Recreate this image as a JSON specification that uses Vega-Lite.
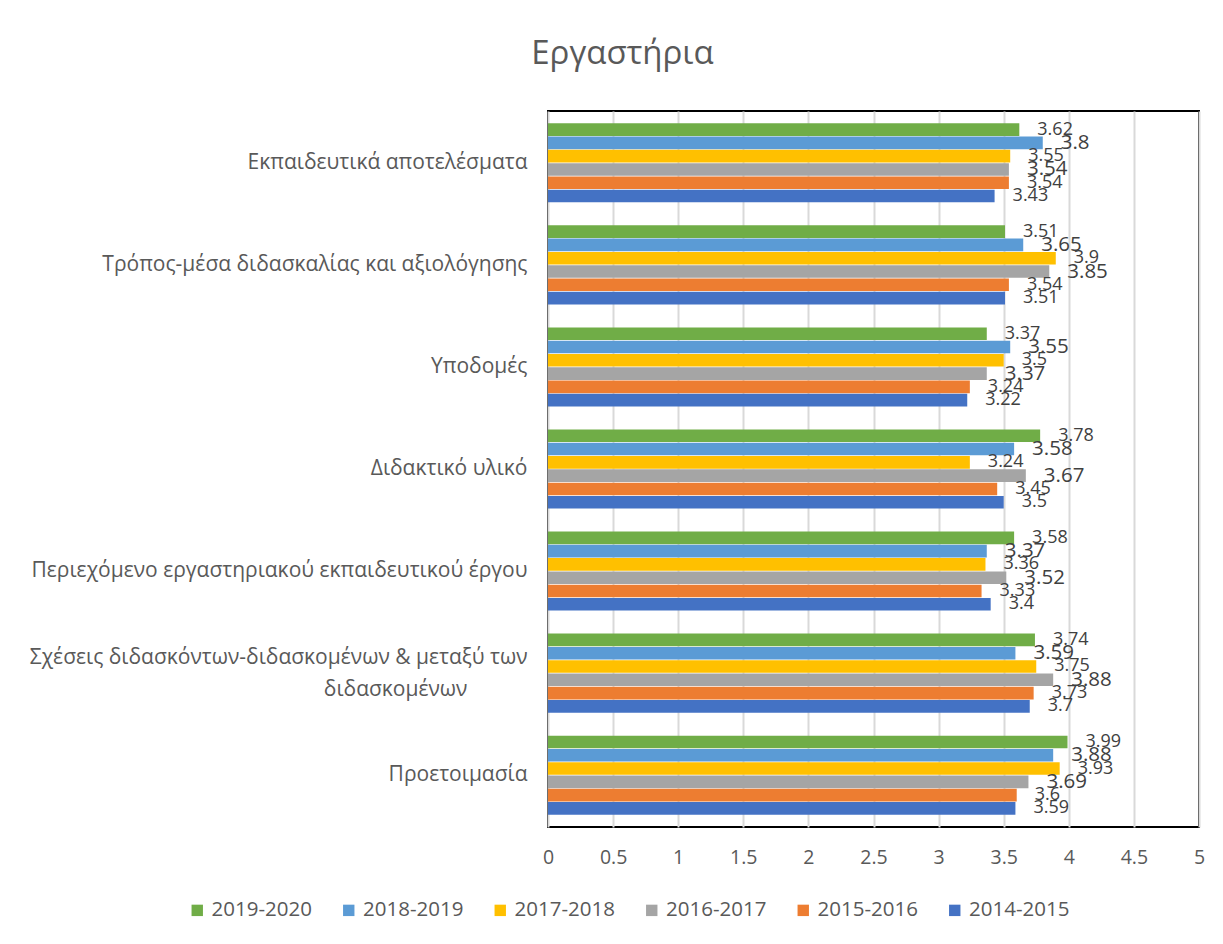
{
  "$schema": "https://vega.github.io/schema/vega-lite/v6.json",
  "width": 651,
  "height": 716,
  "autosize": {"type": "none"},
  "padding": {"left": 548, "top": 111, "right": 24, "bottom": 117},
  "background": "white",
  "title": {"text": "Εργαστήρια", "fontSize": 33, "font": "Open Sans", "fontWeight": "normal", "color": "#595959", "anchor": "middle", "frame": "group", "dx": -251, "offset": 40},
  "config": {
    "view": {"stroke": "black", "strokeWidth": 2},
    "font": "Open Sans"
  },
  "data": {"values": [
    {"category": "Εκπαιδευτικά αποτελέσματα", "year": "2019-2020", "value": 3.62},
    {"category": "Εκπαιδευτικά αποτελέσματα", "year": "2018-2019", "value": 3.8},
    {"category": "Εκπαιδευτικά αποτελέσματα", "year": "2017-2018", "value": 3.55},
    {"category": "Εκπαιδευτικά αποτελέσματα", "year": "2016-2017", "value": 3.54},
    {"category": "Εκπαιδευτικά αποτελέσματα", "year": "2015-2016", "value": 3.54},
    {"category": "Εκπαιδευτικά αποτελέσματα", "year": "2014-2015", "value": 3.43},
    {"category": "Τρόπος-μέσα διδασκαλίας και αξιολόγησης", "year": "2019-2020", "value": 3.51},
    {"category": "Τρόπος-μέσα διδασκαλίας και αξιολόγησης", "year": "2018-2019", "value": 3.65},
    {"category": "Τρόπος-μέσα διδασκαλίας και αξιολόγησης", "year": "2017-2018", "value": 3.9},
    {"category": "Τρόπος-μέσα διδασκαλίας και αξιολόγησης", "year": "2016-2017", "value": 3.85},
    {"category": "Τρόπος-μέσα διδασκαλίας και αξιολόγησης", "year": "2015-2016", "value": 3.54},
    {"category": "Τρόπος-μέσα διδασκαλίας και αξιολόγησης", "year": "2014-2015", "value": 3.51},
    {"category": "Υποδομές", "year": "2019-2020", "value": 3.37},
    {"category": "Υποδομές", "year": "2018-2019", "value": 3.55},
    {"category": "Υποδομές", "year": "2017-2018", "value": 3.5},
    {"category": "Υποδομές", "year": "2016-2017", "value": 3.37},
    {"category": "Υποδομές", "year": "2015-2016", "value": 3.24},
    {"category": "Υποδομές", "year": "2014-2015", "value": 3.22},
    {"category": "Διδακτικό υλικό", "year": "2019-2020", "value": 3.78},
    {"category": "Διδακτικό υλικό", "year": "2018-2019", "value": 3.58},
    {"category": "Διδακτικό υλικό", "year": "2017-2018", "value": 3.24},
    {"category": "Διδακτικό υλικό", "year": "2016-2017", "value": 3.67},
    {"category": "Διδακτικό υλικό", "year": "2015-2016", "value": 3.45},
    {"category": "Διδακτικό υλικό", "year": "2014-2015", "value": 3.5},
    {"category": "Περιεχόμενο εργαστηριακού εκπαιδευτικού έργου", "year": "2019-2020", "value": 3.58},
    {"category": "Περιεχόμενο εργαστηριακού εκπαιδευτικού έργου", "year": "2018-2019", "value": 3.37},
    {"category": "Περιεχόμενο εργαστηριακού εκπαιδευτικού έργου", "year": "2017-2018", "value": 3.36},
    {"category": "Περιεχόμενο εργαστηριακού εκπαιδευτικού έργου", "year": "2016-2017", "value": 3.52},
    {"category": "Περιεχόμενο εργαστηριακού εκπαιδευτικού έργου", "year": "2015-2016", "value": 3.33},
    {"category": "Περιεχόμενο εργαστηριακού εκπαιδευτικού έργου", "year": "2014-2015", "value": 3.4},
    {"category": "Σχέσεις διδασκόντων-διδασκομένων & μεταξύ των διδασκομένων", "year": "2019-2020", "value": 3.74},
    {"category": "Σχέσεις διδασκόντων-διδασκομένων & μεταξύ των διδασκομένων", "year": "2018-2019", "value": 3.59},
    {"category": "Σχέσεις διδασκόντων-διδασκομένων & μεταξύ των διδασκομένων", "year": "2017-2018", "value": 3.75},
    {"category": "Σχέσεις διδασκόντων-διδασκομένων & μεταξύ των διδασκομένων", "year": "2016-2017", "value": 3.88},
    {"category": "Σχέσεις διδασκόντων-διδασκομένων & μεταξύ των διδασκομένων", "year": "2015-2016", "value": 3.73},
    {"category": "Σχέσεις διδασκόντων-διδασκομένων & μεταξύ των διδασκομένων", "year": "2014-2015", "value": 3.7},
    {"category": "Προετοιμασία", "year": "2019-2020", "value": 3.99},
    {"category": "Προετοιμασία", "year": "2018-2019", "value": 3.88},
    {"category": "Προετοιμασία", "year": "2017-2018", "value": 3.93},
    {"category": "Προετοιμασία", "year": "2016-2017", "value": 3.69},
    {"category": "Προετοιμασία", "year": "2015-2016", "value": 3.6},
    {"category": "Προετοιμασία", "year": "2014-2015", "value": 3.59}
  ]},
  "encoding": {
    "y": {
      "field": "category", "type": "nominal", "title": null,
      "sort": ["Εκπαιδευτικά αποτελέσματα", "Τρόπος-μέσα διδασκαλίας και αξιολόγησης", "Υποδομές", "Διδακτικό υλικό", "Περιεχόμενο εργαστηριακού εκπαιδευτικού έργου", "Σχέσεις διδασκόντων-διδασκομένων & μεταξύ των διδασκομένων", "Προετοιμασία"],
      "scale": {"paddingInner": 0.225, "paddingOuter": 0.12},
      "axis": {
        "domain": false, "ticks": false, "labelPadding": 21, "labelFontSize": 21, "labelColor": "#595959", "labelLimit": 600,
        "labelLineHeight": 32,
        "labelExpr": "datum.label == 'Σχέσεις διδασκόντων-διδασκομένων & μεταξύ των διδασκομένων' ? ['Σχέσεις διδασκόντων-διδασκομένων & μεταξύ των', 'διδασκομένων\u2800\u2800\u2800\u2800'] : datum.label",
        "labelOffset": {"condition": {"test": "datum.value === 'Σχέσεις διδασκόντων-διδασκομένων & μεταξύ των διδασκομένων'", "value": -15}, "value": 0}
      }
    },
    "yOffset": {"field": "year", "type": "nominal", "sort": "descending", "scale": {"paddingInner": 0.05}},
    "x": {
      "field": "value", "type": "quantitative", "title": null,
      "scale": {"domain": [0, 5], "nice": false, "zero": true},
      "axis": {"values": [0, 0.5, 1, 1.5, 2, 2.5, 3, 3.5, 4, 4.5, 5], "format": "~g", "domain": false, "ticks": false, "labelPadding": 21, "labelFontSize": 19.5, "labelColor": "#595959", "gridColor": "#D9D9D9", "gridWidth": 2, "labelFlush": false}
    }
  },
  "layer": [
    {
      "mark": {"type": "bar"},
      "encoding": {
        "color": {
          "field": "year", "type": "nominal",
          "scale": {"domain": ["2019-2020", "2018-2019", "2017-2018", "2016-2017", "2015-2016", "2014-2015"], "range": ["#70AD47", "#5B9BD5", "#FFC000", "#A5A5A5", "#ED7D31", "#4472C4"]},
          "legend": {"title": null, "orient": "none", "direction": "horizontal", "columns": 6, "legendX": -361, "legendY": 789, "padding": 0, "symbolType": "square", "symbolSize": 130, "symbolStrokeWidth": 0, "labelFontSize": 20.5, "labelColor": "#595959", "columnPadding": 26.5, "labelOffset": 4}
        }
      }
    },
    {
      "mark": {"type": "text", "align": "left", "baseline": "middle", "dx": 18, "color": "#404040"},
      "encoding": {
        "text": {"field": "value", "type": "quantitative"},
        "size": {"condition": {"test": "datum.year == '2018-2019' || datum.year == '2016-2017'", "value": 20.5}, "value": 18}
      }
    }
  ]
}
